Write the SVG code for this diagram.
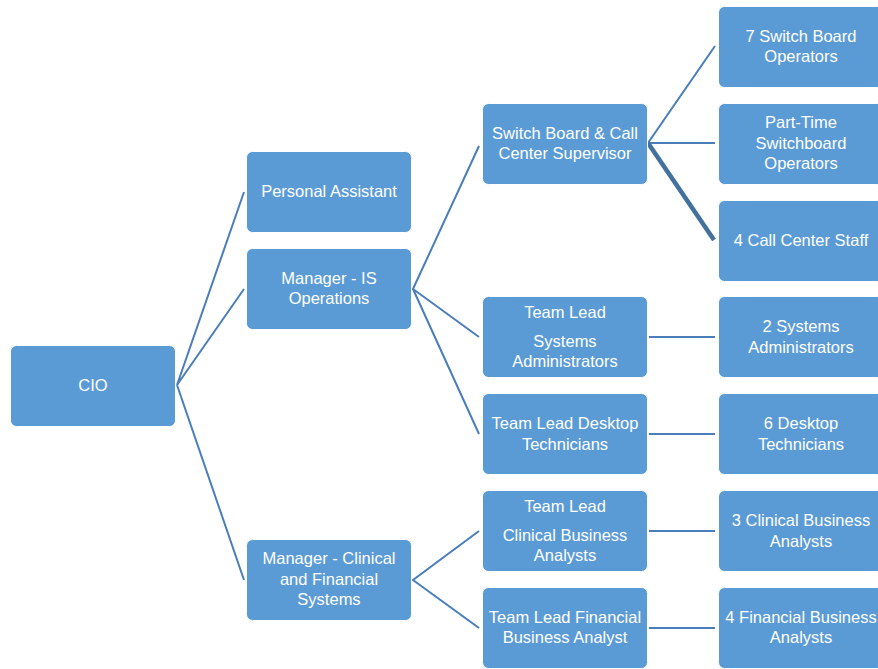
<svg xmlns="http://www.w3.org/2000/svg" width="878" height="669" viewBox="0 0 878 669">
<style>
.box{fill:#5B9BD5;stroke:#FFFFFF;stroke-width:1}
.t{font-family:"Liberation Sans",Arial,sans-serif;font-size:16.5px;fill:#FFFFFF;text-anchor:middle}
.c{fill:none;stroke:#4A7EBB;stroke-width:2}
.ct{fill:none;stroke:#41719C;stroke-width:4.5}
</style>
<rect width="878" height="669" fill="#FFFFFF"/>
<g id="connectors">
<path class="c" d="M244,192 L177,385 L244,289 M177,385 L244,580"/>
<path class="c" d="M479,146 L413,289 L479,337 M413,289 L479,434"/>
<path class="c" d="M715,46 L648,143 L715,143"/>
<path class="ct" d="M648,143 L714,240"/>
<path class="c" d="M479,531 L413,580 L479,628"/>
<path class="c" d="M649,337 L715,337 M649,434 L715,434 M649,531 L715,531 M649,628 L715,628"/>
</g>
<g id="cio"><rect class="box" x="10.5" y="345.5" width="165" height="81" rx="6"/><text class="t" x="93" y="391">CIO</text></g>
<g id="personal-assistant"><rect class="box" x="246.5" y="151.5" width="165" height="81" rx="6"/><text class="t" x="329" y="197">Personal Assistant</text></g>
<g id="manager-is"><rect class="box" x="246.5" y="248.5" width="165" height="81" rx="6"/><text class="t" x="329" y="284">Manager - IS</text><text class="t" x="329" y="304">Operations</text></g>
<g id="manager-clinical"><rect class="box" x="246.5" y="539.5" width="165" height="81" rx="6"/><text class="t" x="329" y="564">Manager - Clinical</text><text class="t" x="329" y="585">and Financial</text><text class="t" x="329" y="605">Systems</text></g>
<g id="switchboard-supervisor"><rect class="box" x="482.5" y="103.5" width="165" height="81" rx="6"/><text class="t" x="565" y="139">Switch Board &amp; Call</text><text class="t" x="565" y="159">Center Supervisor</text></g>
<g id="tl-sysadmin"><rect class="box" x="482.5" y="296.5" width="165" height="81" rx="6"/><text class="t" x="565" y="318">Team Lead</text><text class="t" x="565" y="347">Systems</text><text class="t" x="565" y="367">Administrators</text></g>
<g id="tl-desktop"><rect class="box" x="482.5" y="393.5" width="165" height="81" rx="6"/><text class="t" x="565" y="429">Team Lead Desktop</text><text class="t" x="565" y="450">Technicians</text></g>
<g id="tl-clinical"><rect class="box" x="482.5" y="490.5" width="165" height="81" rx="6"/><text class="t" x="565" y="512">Team Lead</text><text class="t" x="565" y="541">Clinical Business</text><text class="t" x="565" y="561">Analysts</text></g>
<g id="tl-financial"><rect class="box" x="482.5" y="587.5" width="165" height="81" rx="6"/><text class="t" x="565" y="623">Team Lead Financial</text><text class="t" x="565" y="643">Business Analyst</text></g>
<g id="switchboard-operators"><rect class="box" x="718.5" y="6.5" width="165" height="81" rx="6"/><text class="t" x="801" y="42">7 Switch Board</text><text class="t" x="801" y="62">Operators</text></g>
<g id="parttime"><rect class="box" x="718.5" y="103.5" width="165" height="81" rx="6"/><text class="t" x="801" y="128">Part-Time</text><text class="t" x="801" y="149">Switchboard</text><text class="t" x="801" y="169">Operators</text></g>
<g id="call-center"><rect class="box" x="718.5" y="200.5" width="165" height="81" rx="6"/><text class="t" x="801" y="246">4 Call Center Staff</text></g>
<g id="sysadmins"><rect class="box" x="718.5" y="296.5" width="165" height="81" rx="6"/><text class="t" x="801" y="332">2 Systems</text><text class="t" x="801" y="353">Administrators</text></g>
<g id="desktop-techs"><rect class="box" x="718.5" y="393.5" width="165" height="81" rx="6"/><text class="t" x="801" y="429">6 Desktop</text><text class="t" x="801" y="450">Technicians</text></g>
<g id="clinical-analysts"><rect class="box" x="718.5" y="490.5" width="165" height="81" rx="6"/><text class="t" x="801" y="526">3 Clinical Business</text><text class="t" x="801" y="547">Analysts</text></g>
<g id="financial-analysts"><rect class="box" x="718.5" y="587.5" width="165" height="81" rx="6"/><text class="t" x="801" y="623">4 Financial Business</text><text class="t" x="801" y="643">Analysts</text></g>
</svg>
